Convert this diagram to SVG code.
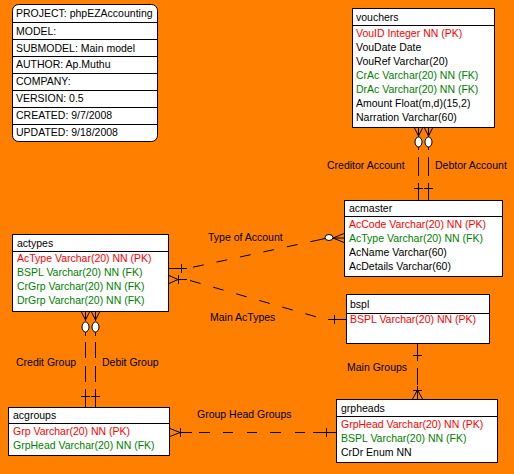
<svg xmlns="http://www.w3.org/2000/svg" width="514" height="474" viewBox="0 0 514 474">
<style>
text{font-family:"Liberation Sans",Arial,sans-serif;font-size:10.5px;fill:#000}
.pk{fill:#FF0000}
.fk{fill:#008000}
.box{fill:#fff;stroke:#000;stroke-width:1}
.sep{stroke:#000;stroke-width:1}
.ln{stroke:#000;stroke-width:1;fill:none}
.dash{stroke:#000;stroke-width:1;fill:none;stroke-dasharray:11 13}
.circ{fill:#fff;stroke:#000;stroke-width:1}
</style>
<rect width="514" height="474" fill="#FF8000"/>

<g id="project">
<rect class="box" x="12.5" y="4.5" width="145" height="137" rx="6"/>
<line class="sep" x1="12.5" y1="22.5" x2="157.5" y2="22.5"/>
<line class="sep" x1="12.5" y1="39.5" x2="157.5" y2="39.5"/>
<line class="sep" x1="12.5" y1="56.5" x2="157.5" y2="56.5"/>
<line class="sep" x1="12.5" y1="73.5" x2="157.5" y2="73.5"/>
<line class="sep" x1="12.5" y1="90.5" x2="157.5" y2="90.5"/>
<line class="sep" x1="12.5" y1="107.5" x2="157.5" y2="107.5"/>
<line class="sep" x1="12.5" y1="124.5" x2="157.5" y2="124.5"/>
<text x="16" y="17">PROJECT: phpEZAccounting</text>
<text x="16" y="34.5">MODEL:</text>
<text x="16" y="51.5">SUBMODEL: Main model</text>
<text x="16" y="68">AUTHOR: Ap.Muthu</text>
<text x="16" y="85">COMPANY:</text>
<text x="16" y="102">VERSION: 0.5</text>
<text x="16" y="119">CREATED: 9/7/2008</text>
<text x="16" y="136">UPDATED: 9/18/2008</text>
</g>

<g id="vouchers">
<rect class="box" x="352.5" y="8.5" width="142" height="119"/>
<line class="sep" x1="352.5" y1="25.5" x2="494.5" y2="25.5"/>
<text x="356" y="21">vouchers</text>
<text class="pk" x="356" y="37">VouID Integer NN (PK)</text>
<text x="356" y="51">VouDate Date</text>
<text x="356" y="65">VouRef Varchar(20)</text>
<text class="fk" x="356" y="79">CrAc Varchar(20) NN (FK)</text>
<text class="fk" x="356" y="93">DrAc Varchar(20) NN (FK)</text>
<text x="356" y="107">Amount Float(m,d)(15,2)</text>
<text x="356" y="121">Narration Varchar(60)</text>
</g>

<g id="acmaster">
<rect class="box" x="344.5" y="200.5" width="158" height="76"/>
<line class="sep" x1="344.5" y1="216.5" x2="502.5" y2="216.5"/>
<text x="349" y="212">acmaster</text>
<text class="pk" x="349" y="228">AcCode Varchar(20) NN (PK)</text>
<text class="fk" x="349" y="242">AcType Varchar(20) NN (FK)</text>
<text x="349" y="256">AcName Varchar(60)</text>
<text x="349" y="270">AcDetails Varchar(60)</text>
</g>

<g id="actypes">
<rect class="box" x="12.5" y="234.5" width="156" height="77"/>
<line class="sep" x1="12.5" y1="251.5" x2="168.5" y2="251.5"/>
<text x="17" y="246.5">actypes</text>
<text class="pk" x="17" y="262">AcType Varchar(20) NN (PK)</text>
<text class="fk" x="17" y="276">BSPL Varchar(20) NN (FK)</text>
<text class="fk" x="17" y="290">CrGrp Varchar(20) NN (FK)</text>
<text class="fk" x="17" y="304">DrGrp Varchar(20) NN (FK)</text>
</g>

<g id="bspl">
<rect class="box" x="346.5" y="294.5" width="143" height="49"/>
<line class="sep" x1="346.5" y1="313.5" x2="489.5" y2="313.5"/>
<text x="350" y="307.5">bspl</text>
<text class="pk" x="350" y="323">BSPL Varchar(20) NN (PK)</text>
</g>

<g id="grpheads">
<rect class="box" x="336.5" y="399.5" width="161" height="63"/>
<line class="sep" x1="336.5" y1="416.5" x2="497.5" y2="416.5"/>
<text x="341" y="411.5">grpheads</text>
<text class="pk" x="341" y="428">GrpHead Varchar(20) NN (PK)</text>
<text class="fk" x="341" y="442">BSPL Varchar(20) NN (FK)</text>
<text x="341" y="456">CrDr Enum NN</text>
</g>

<g id="acgroups">
<rect class="box" x="8.5" y="407.5" width="161" height="48"/>
<line class="sep" x1="8.5" y1="423.5" x2="169.5" y2="423.5"/>
<text x="13" y="419">acgroups</text>
<text class="pk" x="13" y="435">Grp Varchar(20) NN (PK)</text>
<text class="fk" x="13" y="449">GrpHead Varchar(20) NN (FK)</text>
</g>

<g id="connectors">
<!-- vouchers - acmaster (Creditor / Debtor) -->
<path class="ln" d="M414.5 128 L418.5 136 L422.5 128 M418.5 128 L418.5 137"/>
<ellipse class="circ" cx="418.5" cy="142" rx="3.5" ry="5"/>
<path class="ln" d="M418.5 147 V150 M418.5 157 V176 M418.5 183 V200 M414 188.5 H423"/>
<path class="ln" d="M424.5 128 L428.5 136 L432.5 128 M428.5 128 L428.5 137"/>
<ellipse class="circ" cx="428.5" cy="142" rx="3.5" ry="5"/>
<path class="ln" d="M428.5 147 V150 M428.5 157 V176 M428.5 183 V200 M424 188.5 H433"/>
<text x="327" y="169">Creditor Account</text>
<text x="435" y="169">Debtor Account</text>

<!-- actypes - acmaster (Type of Account) -->
<path class="ln" d="M168 268.5 H187 M181.5 264 V273"/>
<path class="dash" d="M193 267.2 L316 240.5"/>
<path class="ln" d="M316 240.5 L325 238.5"/>
<ellipse class="circ" cx="329" cy="237.5" rx="4" ry="3"/>
<path class="ln" d="M333 238 L344 233.5 M333 238 H344 M333 238 L344 242.5"/>
<text x="208" y="241">Type of Account</text>

<!-- actypes - bspl (Main AcTypes) -->
<path class="ln" d="M169 275.5 L178 279.5 L169 283.5 M178.5 275 V284 M178 279.5 H187"/>
<path class="dash" d="M190 280.5 L322 318.5"/>
<path class="ln" d="M328 319.5 H346 M334.5 315 V324"/>
<text x="210" y="321">Main AcTypes</text>

<!-- bspl - grpheads (Main Groups) -->
<path class="ln" d="M417.5 343 V361 M413 355.5 H422 M417.5 368 V385 M417.5 386 V399 M413 390.5 H422 M417.5 390 L412.5 399 M417.5 390 L422.5 399"/>
<text x="347" y="371">Main Groups</text>

<!-- actypes - acgroups (Credit / Debit Group) -->
<path class="ln" d="M81.5 312 L85.5 320 L89.5 312 M85.5 312 V321"/>
<ellipse class="circ" cx="85.5" cy="327" rx="3.5" ry="5"/>
<path class="ln" d="M85.5 332 V336 M85.5 342 V358 M85.5 366 V382 M85.5 389 V407 M81 396.5 H90"/>
<path class="ln" d="M91.5 312 L95.5 320 L99.5 312 M95.5 312 V321"/>
<ellipse class="circ" cx="95.5" cy="327" rx="3.5" ry="5"/>
<path class="ln" d="M95.5 332 V336 M95.5 342 V358 M95.5 366 V382 M95.5 389 V407 M91 396.5 H100"/>
<text x="16" y="366">Credit Group</text>
<text x="102" y="366">Debit Group</text>

<!-- acgroups - grpheads (Group Head Groups) -->
<path class="ln" d="M170 428.5 L180 432.5 L170 436.5 M180.5 428 V437 M180 432.5 H192"/>
<path class="ln" d="M199 432.5 H210 M223 432.5 H233 M247 432.5 H257 M270 432.5 H281 M295 432.5 H305 M313 432.5 H336 M326.5 428 V437"/>
<text x="197" y="418">Group Head Groups</text>
</g>
</svg>
